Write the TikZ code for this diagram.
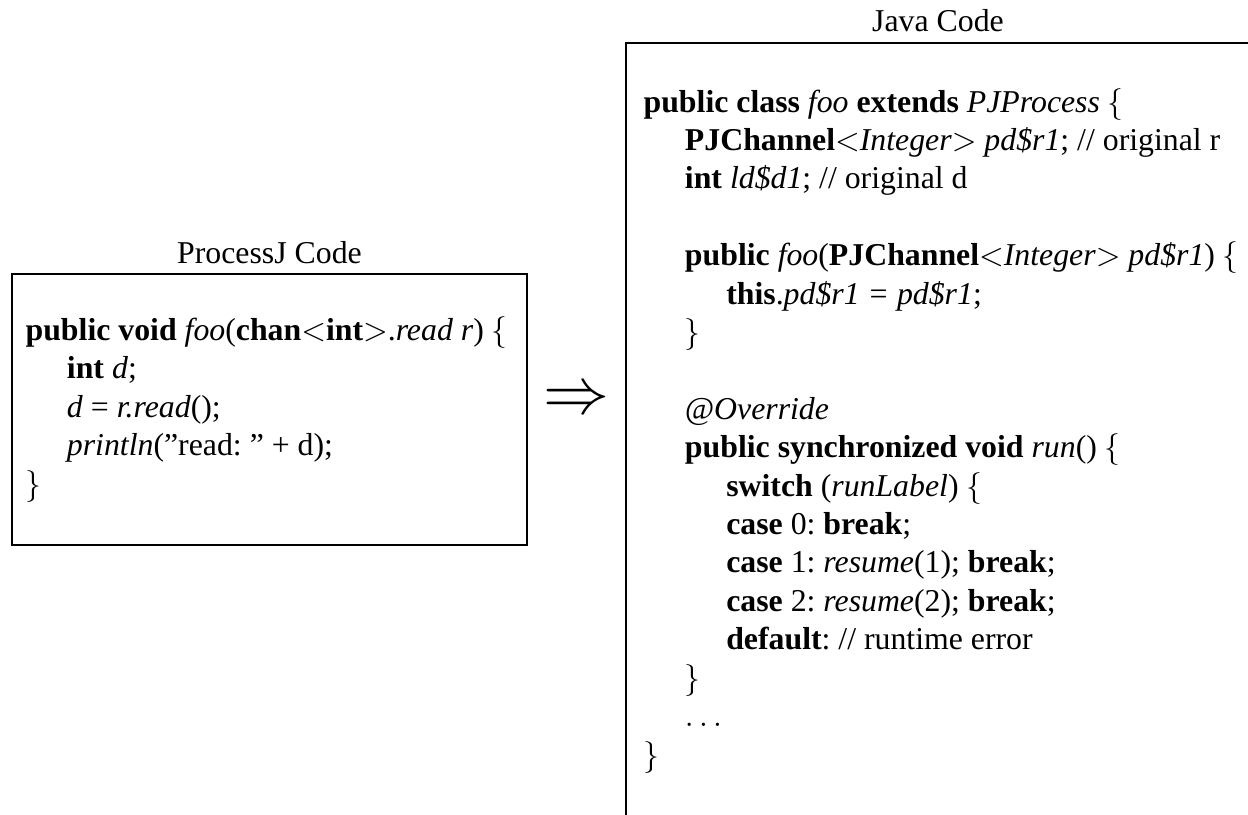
\documentclass[tikz,border=0pt]{standalone}
\usepackage{fontspec}
\setmainfont{Liberation Serif}
\newcommand{\ind}{\hspace*{13pt}}
\tikzset{
  code/.style = {anchor = base west, align = left, inner sep = 0pt,
                 font = \fontsize{10}{12.08}\selectfont\frenchspacing},
  title/.style = {anchor = base, inner sep = 0pt, font = \fontsize{10}{12}\selectfont}
}
\begin{document}
\begin{tikzpicture}[x = 0.3145pt, y = -0.3145pt]
      \useasboundingbox (0, 0) rectangle (1248, 814);
      % ProcessJ side (node base = last line)
      \draw (12, 274) rectangle (527, 545);
      \node [title] (pjtitle) at (269.5, 263) {ProcessJ Code};
      \node [code] (pjcode) at (25, 494) {%
        \textbf{public void} \textit{foo}(\textbf{chan}$<$\textbf{int}$>$.\textit{read r}) $\{$\\
        \ind\textbf{int} \textit{d};\\
        \ind\textit{d} = \textit{r.read}();\\
        \ind\textit{println}(''read: '' + d);\\
        $\}$};
      % the arrow
      \node [inner sep = 0pt, font = \fontsize{20}{22}\selectfont] (arrow) at (576, 401) {$\Rightarrow$};
      % Java side
      \draw (626, 43) rectangle (1262, 830);
      \node [title] (jtitle) at (938, 31) {Java Code};
      \node [code] (jcode) at (643, 765) {%
        \textbf{public class} \textit{foo} \textbf{extends} \textit{PJProcess} $\{$\\
        \ind\textbf{PJChannel}$<$\textit{Integer}$>$ \textit{pd\$r1}; // original r\\
        \ind\textbf{int} \textit{ld\$d1}; // original d\\
        \mbox{}\\
        \ind\textbf{public} \textit{foo}(\textbf{PJChannel}$<$\textit{Integer}$>$ \textit{pd\$r1}) $\{$\\
        \ind\ind\textbf{this}.\textit{pd\$r1 = pd\$r1};\\
        \ind$\}$\\
        \mbox{}\\
        \ind\textit{@Override}\\
        \ind\textbf{public synchronized void} \textit{run}() $\{$\\
        \ind\ind\textbf{switch} (\textit{runLabel}) $\{$\\
        \ind\ind\textbf{case} 0: \textbf{break};\\
        \ind\ind\textbf{case} 1: \textit{resume}(1); \textbf{break};\\
        \ind\ind\textbf{case} 2: \textit{resume}(2); \textbf{break};\\
        \ind\ind\textbf{default}: // runtime error\\
        \ind$\}$\\
        \ind$\ldots$\\
        $\}$};
    \end{tikzpicture}
\end{document}
